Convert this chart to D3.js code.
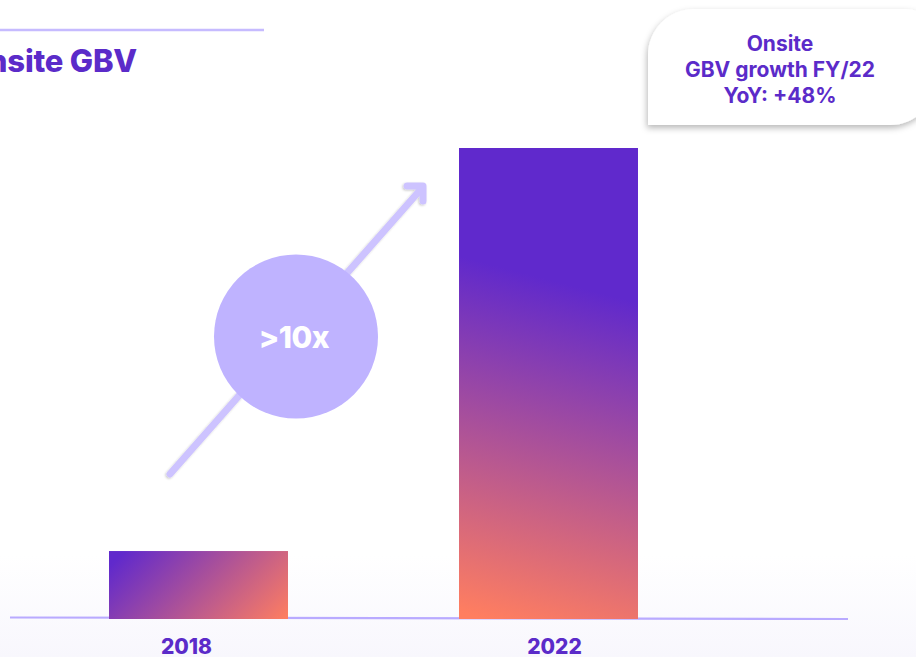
<!DOCTYPE html>
<html>
<head>
<meta charset="utf-8">
<script src="https://cdn.jsdelivr.net/npm/d3@7"></script>
<style>
  html, body { margin: 0; padding: 0; background: #ffffff; }
  svg { display: block; }
  text { font-family: "Inter", "Open Sans", sans-serif; }
</style>
</head>
<body>
<svg id="chart" width="916" height="657"></svg>
<script>
// Onsite GBV, indexed to 2018 = 100
const years = ["2018", "2022"];
const gbvIndex = [100, 693];
const title = "Onsite GBV";
const growthBadge = ">10x";
const calloutLines = ["Onsite", "GBV growth FY/22", "YoY: +48%"];

const W = 916, H = 657;
const purple = "#6029cc";
const orange = "#ff7e60";
const ink = "#5b2bc9";

const svg = d3.select("#chart");
const defs = svg.append("defs");

// scales
const x = d3.scaleBand().domain(years).range([-62, 809]).paddingInner(0.4886).paddingOuter(0.4886);
const y = d3.scaleLinear().domain([0, 693]).range([619, 148]);

// faint haze along the floor
const haze = defs.append("linearGradient").attr("id", "haze").attr("x1", 0).attr("y1", 0).attr("x2", 0).attr("y2", 1);
haze.append("stop").attr("offset", 0).attr("stop-color", "#ffffff");
haze.append("stop").attr("offset", 1).attr("stop-color", "#f8f7fd");
svg.append("rect").attr("x", 0).attr("y", 555).attr("width", W).attr("height", H - 555).attr("fill", "url(#haze)");

// title with rule above
svg.append("line").attr("x1", 0).attr("x2", 264).attr("y1", 30).attr("y2", 30)
  .attr("stroke", "#c6bbff").attr("stroke-width", 2.5);
svg.append("text").attr("x", 137).attr("y", 72).attr("text-anchor", "end")
  .attr("font-size", 31).attr("font-weight", 800).attr("fill", ink).attr("letter-spacing", -0.2)
  .text(title);

// callout card
const shadow = defs.append("filter").attr("id", "cardShadow").attr("x", -0.2).attr("y", -0.3).attr("width", 1.4).attr("height", 1.7);
shadow.append("feDropShadow").attr("dx", -1).attr("dy", 3).attr("stdDeviation", 3)
  .attr("flood-color", "#000").attr("flood-opacity", 0.28);
const cx0 = 648, cy0 = 9, cx1 = 936, cy1 = 125, r = 46;
const card = d3.path();
card.moveTo(cx0, cy1);
card.lineTo(cx0, cy0 + r);
card.arcTo(cx0, cy0, cx0 + r, cy0, r);
card.lineTo(cx1 - 30, cy0);
card.arcTo(cx1, cy0, cx1, cy0 + 30, 30);
card.lineTo(cx1, cy1 - r);
card.arcTo(cx1, cy1, cx1 - r, cy1, r);
card.closePath();
svg.append("path").attr("d", card.toString()).attr("fill", "#ffffff").attr("filter", "url(#cardShadow)");
svg.append("g").selectAll("text").data(calloutLines).join("text")
  .attr("x", 780).attr("y", (d, i) => 51 + i * 26)
  .attr("text-anchor", "middle").attr("font-size", 21).attr("font-weight", 700)
  .attr("fill", ink).text(d => d);

// bar gradients (user space so the diagonal keeps its angle)
function barGrad(id, p0, p1) {
  const g = defs.append("linearGradient").attr("id", id).attr("gradientUnits", "userSpaceOnUse")
    .attr("x1", p0[0]).attr("y1", p0[1]).attr("x2", p1[0]).attr("y2", p1[1]);
  return g;
}
const bw = x.bandwidth();
// 2018: purple top-left to orange bottom-right
const g0 = barGrad("bar0", [x(years[0]) + 11, y(gbvIndex[0]) + 4], [x(years[0]) + 127, y(gbvIndex[0]) + 120]);
g0.append("stop").attr("offset", 0).attr("stop-color", purple);
g0.append("stop").attr("offset", 1).attr("stop-color", orange);
// 2022: orange bottom-left rising to purple upper-right
const g1 = barGrad("bar1", [x(years[1]) + 31, y(0) + 1], [x(years[1]) + 118, y(0) - 332]);
g1.append("stop").attr("offset", 0).attr("stop-color", orange);
g1.append("stop").attr("offset", 1).attr("stop-color", purple);

// baseline
svg.append("line").attr("x1", 10).attr("x2", 848).attr("y1", 617.5).attr("y2", 619)
  .attr("stroke", "#b9aaff").attr("stroke-width", 2.2);

// bars
svg.append("g").selectAll("rect").data(years).join("rect")
  .attr("x", d => x(d))
  .attr("y", (d, i) => y(gbvIndex[i]))
  .attr("width", bw)
  .attr("height", (d, i) => y(0) - y(gbvIndex[i]))
  .attr("fill", (d, i) => `url(#bar${i})`);

// year labels
const labelNudge = [-12, 6];
svg.append("g").selectAll("text").data(years).join("text")
  .attr("x", (d, i) => x(d) + bw / 2 + labelNudge[i])
  .attr("y", 654)
  .attr("text-anchor", "middle").attr("font-size", 21).attr("font-weight", 800)
  .attr("fill", ink).text(d => d);

// growth arrow with badge
const arrowShadow = defs.append("filter").attr("id", "arrowShadow");
arrowShadow.append("feDropShadow").attr("dx", -1).attr("dy", 1).attr("stdDeviation", 0.8)
  .attr("flood-color", "#000").attr("flood-opacity", 0.22);
const arrow = svg.append("g").attr("filter", "url(#arrowShadow)")
  .attr("stroke", "#cdc3ff").attr("stroke-linecap", "round").attr("stroke-linejoin", "round").attr("fill", "none");
arrow.append("line").attr("x1", 170).attr("y1", 474).attr("x2", 422).attr("y2", 188).attr("stroke-width", 7);
arrow.append("path").attr("d", "M407,186 L423,186 L423,201").attr("stroke-width", 7);

svg.append("circle").attr("cx", 296).attr("cy", 336.5).attr("r", 82).attr("fill", "#bfb3ff");
svg.append("text").attr("x", 294).attr("y", 348).attr("text-anchor", "middle")
  .attr("font-size", 30).attr("font-weight", 800).attr("fill", "#ffffff").attr("letter-spacing", -0.5)
  .text(growthBadge);
</script>
</body>
</html>
